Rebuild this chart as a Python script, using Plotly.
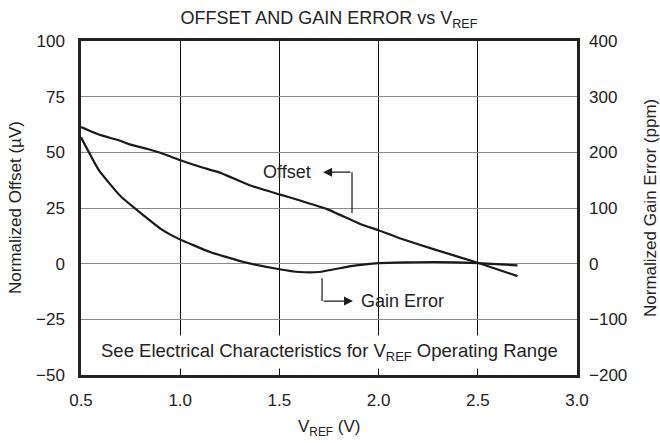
import plotly.graph_objects as go

# Reference voltage sweep (V) and normalized offset (µV)
offset_vref = [0.50, 0.59, 0.69, 0.74, 0.84, 0.90, 0.99, 1.10, 1.20, 1.35, 1.50,
               1.60, 1.74, 1.91, 2.00, 2.11, 2.28, 2.50, 2.70]
offset_uv = [61.4, 58.0, 55.4, 53.7, 51.4, 49.8, 46.8, 43.5, 40.9, 35.2, 31.1,
             28.5, 24.5, 17.7, 15.0, 11.3, 6.4, 0.4, -5.6]

# Reference voltage sweep (V) and normalized gain error (ppm)
gain_vref = [0.50, 0.59, 0.70, 0.90, 0.99, 1.15, 1.32, 1.50, 1.60, 1.70, 1.86,
             2.00, 2.28, 2.50, 2.70]
gain_ppm = [227, 168, 121, 63, 45, 21, 3, -10, -15, -15, -4.5,
            1, 3, 1, -3]

x_ticks = [0.5, 1.0, 1.5, 2.0, 2.5, 3.0]
y_ticks = [-50, -25, 0, 25, 50, 75, 100]
y2_ticks = [-200, -100, 0, 100, 200, 300, 400]

FONT = "Liberation Sans, Arial, Helvetica, sans-serif"
INK = "#1a1a1a"
TXT = "#222"

fig = go.Figure()
fig.add_trace(go.Scatter(x=offset_vref, y=offset_uv, mode="lines",
                         line=dict(color=INK, width=2.2, shape="spline", smoothing=0.4),
                         yaxis="y", showlegend=False, hoverinfo="skip"))
fig.add_trace(go.Scatter(x=gain_vref, y=gain_ppm, mode="lines",
                         line=dict(color=INK, width=2.2, shape="spline", smoothing=0.4),
                         yaxis="y2", showlegend=False, hoverinfo="skip"))

tick_font = dict(family=FONT, size=17, color=TXT)
label_font = dict(family=FONT, size=17, color=TXT)

fig.update_layout(
    width=660, height=443,
    margin=dict(l=81, r=83, t=41, b=68),
    paper_bgcolor="white", plot_bgcolor="white",
    title=dict(text="OFFSET AND GAIN ERROR vs V<sub>REF</sub>",
               x=0.5, xref="paper", xanchor="center",
               y=1 - 18 / 443, yref="container", yanchor="middle",
               font=dict(family=FONT, size=18, color=TXT)),
    xaxis=dict(range=[0.5, 3.0], tickvals=x_ticks, ticktext=[f"{v:.1f}" for v in x_ticks],
               showgrid=True, gridcolor="#111", gridwidth=1,
               showline=True, linecolor="#222", linewidth=2.5, mirror=True,
               ticks="", zeroline=False, tickfont=tick_font, ticklabelstandoff=8),
    yaxis=dict(range=[-50, 100], tickvals=y_ticks,
               showgrid=True, gridcolor="#8a8a8a", gridwidth=1,
               showline=True, linecolor="#222", linewidth=2.5, mirror=True,
               ticks="", zeroline=False, tickfont=tick_font, ticklabelstandoff=10),
    yaxis2=dict(range=[-200, 400], tickvals=y2_ticks, overlaying="y", side="right",
                showgrid=False, showline=False, ticks="", zeroline=False,
                tickfont=tick_font, ticklabelstandoff=11),
)

# Axis titles
fig.add_annotation(x=-66 / 496, y=0.5, xref="paper", yref="paper", textangle=-90,
                   text="Normalized Offset (µV)", showarrow=False,
                   xanchor="center", yanchor="middle", font=label_font)
fig.add_annotation(x=(650 - 81) / 496, y=0.5, xref="paper", yref="paper", textangle=-90,
                   text="Normalized Gain Error (ppm)", showarrow=False,
                   xanchor="center", yanchor="middle", font=label_font)
fig.add_annotation(x=0.5, y=-53 / 334, xref="paper", yref="paper",
                   text="V<sub>REF</sub> (V)", showarrow=False,
                   xanchor="center", yanchor="middle", font=label_font)

# Leader for the offset curve label
fig.add_shape(type="line", xref="x", yref="y", x0=1.866, y0=22.7, x1=1.866, y1=41.1,
              line=dict(color=INK, width=1.2))
fig.add_annotation(x=1.72, y=41.1, ax=1.866, ay=41.1, axref="x", ayref="y",
                   xref="x", yref="y", text="", showarrow=True,
                   arrowhead=2, arrowsize=1.5, arrowwidth=1.2, arrowcolor=INK)
fig.add_annotation(x=1.54, y=41.1, xref="x", yref="y", text="Offset",
                   showarrow=False, font=dict(family=FONT, size=18, color=TXT))

# Leader for the gain error curve label
fig.add_shape(type="line", xref="x", yref="y", x0=1.715, y0=-6.5, x1=1.715, y1=-16.8,
              line=dict(color=INK, width=1.2))
fig.add_annotation(x=1.871, y=-16.8, ax=1.715, ay=-16.8, axref="x", ayref="y",
                   xref="x", yref="y", text="", showarrow=True,
                   arrowhead=2, arrowsize=1.5, arrowwidth=1.2, arrowcolor=INK)
fig.add_annotation(x=2.12, y=-16.8, xref="x", yref="y", text="Gain Error",
                   showarrow=False, font=dict(family=FONT, size=18, color=TXT))

# Footnote on a white panel inside the plot
fig.add_annotation(x=0.5, y=-39.5, xref="paper", yref="y",
                   text="See Electrical Characteristics for V<sub>REF</sub> Operating Range",
                   showarrow=False, bgcolor="white", borderpad=4,
                   font=dict(family=FONT, size=18.5, color=TXT))

fig.write_html("out.html")
